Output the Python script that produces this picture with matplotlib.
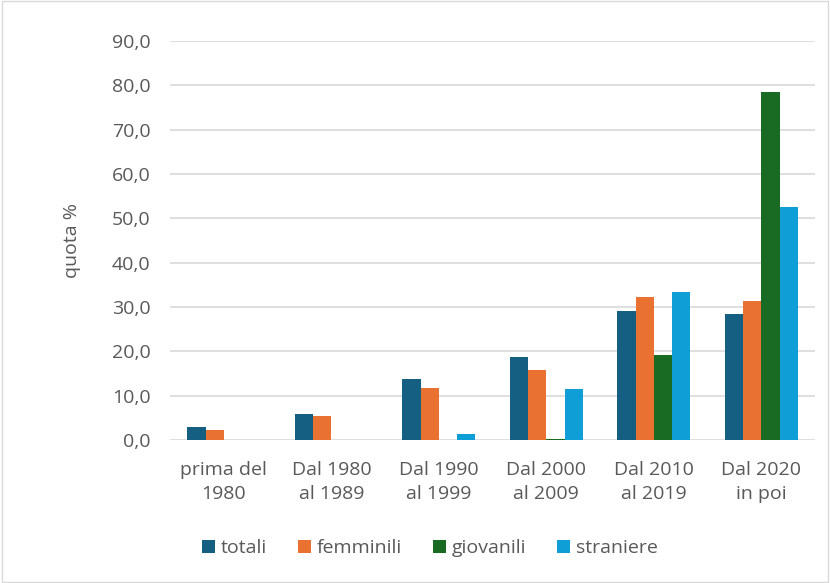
import matplotlib
matplotlib.use("Agg")
import matplotlib.pyplot as plt
import numpy as np
from matplotlib.patches import Rectangle

categories = ["prima del\n1980", "Dal 1980\nal 1989", "Dal 1990\nal 1999", "Dal 2000\nal 2009", "Dal 2010\nal 2019", "Dal 2020\nin poi"]
totali = [3.0, 5.9, 13.8, 18.7, 29.1, 28.5]
femminili = [2.2, 5.4, 11.8, 15.8, 32.3, 31.4]
giovanili = [0.0, 0.0, 0.0, 0.3, 19.2, 78.4]
straniere = [0.0, 0.0, 1.3, 11.5, 33.4, 52.5]
series_names = ["totali", "femminili", "giovanili", "straniere"]
colors = ["#156082", "#E97132", "#196B24", "#0F9ED5"]
yticks = [0, 10, 20, 30, 40, 50, 60, 70, 80, 90]

plt.rcParams['font.family'] = ['Open Sans', 'DejaVu Sans']

fig = plt.figure(figsize=(8.3, 5.83), dpi=100)
fig.patches.append(Rectangle((0.002, 0.002), 0.996, 0.996, transform=fig.transFigure,
                             fill=False, edgecolor="#d9d9d9", linewidth=1.0))
ax = fig.add_axes([0.205, 0.245, 0.777, 0.685])

x = np.arange(len(categories))
w = 0.17
data = [totali, femminili, giovanili, straniere]
for i, (vals, name, c) in enumerate(zip(data, series_names, colors)):
    ax.bar(x + (i - 1.5) * w, vals, width=w, color=c, label=name, zorder=3)

ax.set_ylim(0, 90)
ax.set_xlim(-0.5, len(categories) - 0.5)
ax.set_yticks(yticks)
ax.set_yticklabels([f"{v:.1f}".replace(".", ",") for v in yticks], fontsize=14, color="#595959")
ax.set_xticks(x)
ax.set_xticklabels(categories, fontsize=14, color="#595959", linespacing=1.45)
ax.tick_params(axis='both', length=0)
ax.tick_params(axis='y', pad=14)
ax.tick_params(axis='x', pad=15)
ax.grid(axis='y', color="#d9d9d9", linewidth=1.2, zorder=0)
for s in ax.spines.values():
    s.set_visible(False)
ax.set_ylabel("quota %", fontsize=14, color="#595959", labelpad=22)

leg = fig.legend(loc="center", bbox_to_anchor=(0.518, 0.06), ncol=4, frameon=False,
                 fontsize=14, handlelength=0.65, handleheight=0.65, handletextpad=0.3,
                 columnspacing=1.6)
for t in leg.get_texts():
    t.set_color("#595959")

fig.savefig("out.png", dpi=100)
